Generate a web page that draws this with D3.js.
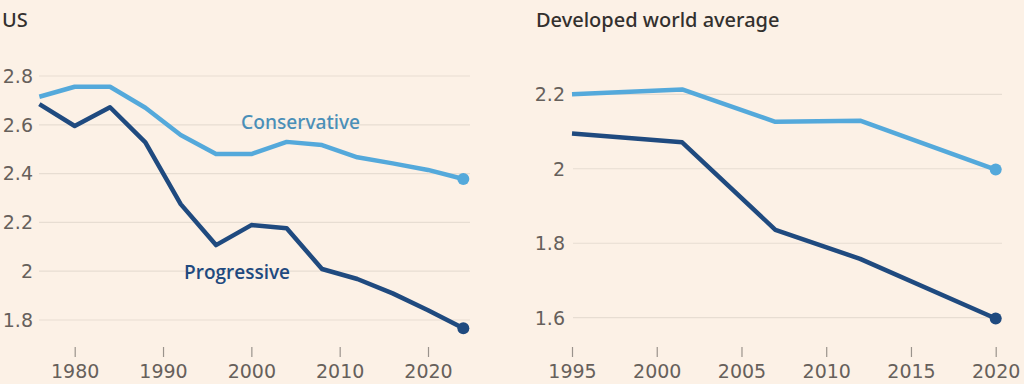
<!DOCTYPE html>
<html>
<head>
<meta charset="utf-8">
<script src="https://cdn.jsdelivr.net/npm/d3@7"></script>
<style>
  html, body { margin: 0; padding: 0; background: #fcf1e6; }
  svg { display: block; }
</style>
</head>
<body>
<svg id="chart" width="1024" height="384"></svg>
<script>
// ---- Data ----
const usYears = [1976, 1980, 1984, 1988, 1992, 1996, 2000, 2004, 2008, 2012, 2016, 2020, 2024];
const usConservative = [2.715, 2.756, 2.756, 2.67, 2.558, 2.48, 2.48, 2.53, 2.517, 2.467, 2.442, 2.415, 2.378];
const usProgressive = [2.685, 2.595, 2.672, 2.528, 2.275, 2.107, 2.189, 2.176, 2.009, 1.968, 1.909, 1.84, 1.766];
const usYTicks = [1.8, 2.0, 2.2, 2.4, 2.6, 2.8];
const usXTicks = [1980, 1990, 2000, 2010, 2020];

const devYears = [1995, 2001.5, 2007, 2012, 2020];
const devConservative = [2.2, 2.213, 2.126, 2.129, 1.998];
const devProgressive = [2.095, 2.071, 1.836, 1.758, 1.598];
const devYTicks = [1.6, 1.8, 2.0, 2.2];
const devXTicks = [1995, 2000, 2005, 2010, 2015, 2020];

const seriesNames = ["Conservative", "Progressive"];
const titles = ["US", "Developed world average"];

// ---- Styles ----
const lightBlue = "#54a9db";
const darkBlue = "#1f4a7f";
const labelLight = "#4a8fb8";
const gridColor = "#e7ddd2";
const tickText = "#66605b";
const tickFont = '"DejaVu Sans", sans-serif';
const titleFont = '"Noto Sans", "Open Sans", sans-serif';
const labelFont = '"Noto Sans", "Open Sans", sans-serif';

const svg = d3.select("#chart");

function panel(opts) {
  const g = svg.append("g");
  const x = d3.scaleLinear().domain(opts.xDomain).range(opts.xRange);
  const y = d3.scaleLinear().domain(opts.yDomain).range(opts.yRange);

  // title
  g.append("text")
    .attr("x", opts.titleX).attr("y", 27)
    .style("font-family", titleFont)
    .style("font-size", "20px").style("font-weight", 500)
    .attr("fill", "#33302e")
    .text(opts.title);

  // gridlines
  g.selectAll(".grid").data(opts.yTicks).enter().append("line")
    .attr("x1", opts.gridX[0]).attr("x2", opts.gridX[1])
    .attr("y1", d => y(d)).attr("y2", d => y(d))
    .attr("stroke", gridColor).attr("stroke-width", 1.2);

  // y labels
  const fmt = d => (Math.abs(d - Math.round(d)) < 1e-9 ? d3.format("d")(d) : d3.format(".1f")(d));
  g.selectAll(".ylab").data(opts.yTicks).enter().append("text")
    .attr("x", opts.yLabelX).attr("y", d => y(d))
    .attr("dy", "0.36em")
    .attr("text-anchor", "end")
    .style("font-family", tickFont).style("font-size", "19px")
    .attr("fill", tickText)
    .text(fmt);

  // x axis (ticks + labels)
  const xAxis = d3.axisBottom(x).tickValues(opts.xTicks).tickSize(10).tickPadding(8).tickFormat(d3.format("d"));
  const ax = g.append("g").attr("transform", `translate(0,${opts.axisY})`).call(xAxis);
  ax.select(".domain").remove();
  ax.selectAll(".tick line").attr("stroke", "#9a938c").attr("stroke-width", 1.2);
  ax.selectAll(".tick text").attr("fill", tickText)
    .style("font-family", tickFont).style("font-size", "19px");

  const line = d3.line().x(d => x(d[0])).y(d => y(d[1]));
  const cons = opts.years.map((yr, i) => [yr, opts.cons[i]]);
  const prog = opts.years.map((yr, i) => [yr, opts.prog[i]]);

  [[prog, darkBlue], [cons, lightBlue]].forEach(([data, col]) => {
    g.append("path").datum(data)
      .attr("d", line).attr("fill", "none")
      .attr("stroke", col).attr("stroke-width", 4.5)
      .attr("stroke-linejoin", "round");
    const last = data[data.length - 1];
    g.append("circle").attr("cx", x(last[0])).attr("cy", y(last[1]))
      .attr("r", 6).attr("fill", col);
  });

  if (opts.labels) {
    g.append("text").attr("x", opts.labels[0][0]).attr("y", opts.labels[0][1])
      .style("font-family", labelFont)
      .style("font-size", "19.2px").style("font-weight", 500).attr("fill", labelLight)
      .text(seriesNames[0]);
    g.append("text").attr("x", opts.labels[1][0]).attr("y", opts.labels[1][1])
      .style("font-family", '"Open Sans", sans-serif')
      .style("font-size", "19px").style("font-weight", 600).attr("fill", darkBlue)
      .text(seriesNames[1]);
  }
}

panel({
  title: titles[0], titleX: 2,
  xDomain: [1980, 2020], xRange: [74.7, 428],
  yDomain: [1.8, 2.8], yRange: [320, 76],
  gridX: [39, 470], yLabelX: 33,
  yTicks: usYTicks, xTicks: usXTicks, axisY: 347,
  years: usYears, cons: usConservative, prog: usProgressive,
  labels: [[241, 129], [184, 279]]
});

panel({
  title: titles[1], titleX: 536,
  xDomain: [1995, 2020], xRange: [572, 995.7],
  yDomain: [1.6, 2.2], yRange: [317.7, 94.3],
  gridX: [573, 1002], yLabelX: 565,
  yTicks: devYTicks, xTicks: devXTicks, axisY: 347,
  years: devYears, cons: devConservative, prog: devProgressive,
  labels: null
});
</script>
</body>
</html>
